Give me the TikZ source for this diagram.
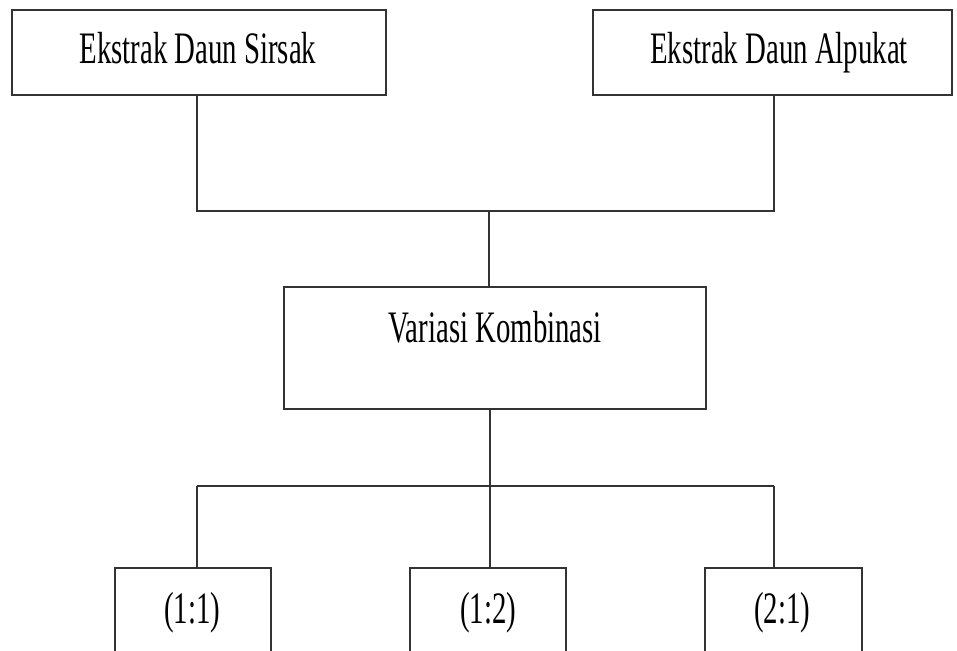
\documentclass[tikz,border=0pt]{standalone}
\usepackage{fontspec}
\newfontfamily\boxfont[FakeStretch=0.64]{Liberation Serif}
\begin{document}
\begin{tikzpicture}[x=1pt,y=-1pt,
  frame/.style={draw=black!80,line width=1.6pt,rectangle,inner sep=0pt,anchor=north west},
  lbl/.style={anchor=base,inner sep=0pt,font=\boxfont\fontsize{45}{50}\selectfont},
  wire/.style={draw=black!80,line width=1.6pt}]
\useasboundingbox (0,0) rectangle (957,650);
\clip (0,0) rectangle (957,650);
% top boxes
\node[frame,minimum width=374pt,minimum height=85pt] (sirsak) at (11,9) {};
\node[frame,minimum width=359pt,minimum height=85pt] (alpukat) at (592,9) {};
\node[lbl] (tsirsak) at (198,64) {Ekstrak Daun Sirsak};
\node[lbl] (talpukat) at (779,64) {Ekstrak Daun Alpukat};
% middle box
\node[frame,minimum width=422pt,minimum height=122pt] (variasi) at (283,286) {};
\node[lbl] (tvariasi) at (495,342) {Variasi Kombinasi};
% bottom boxes
\node[frame,minimum width=156pt,minimum height=100pt] (r11) at (114,567) {};
\node[frame,minimum width=156pt,minimum height=100pt] (r12) at (409,567) {};
\node[frame,minimum width=157pt,minimum height=100pt] (r21) at (704,567) {};
\node[lbl] (t11) at (192,623) {(1:1)};
\node[lbl] (t12) at (488,623) {(1:2)};
\node[lbl] (t21) at (782,623) {(2:1)};
% junction points
\coordinate (a1) at (197,211);
\coordinate (a2) at (489,211);
\coordinate (a3) at (774,211);
\coordinate (d1) at (197,486);
\coordinate (d2) at (490,486);
\coordinate (d3) at (774,486);
% upper connectors
\draw[wire] (a1 |- sirsak.south) -- (a1) -- (a3) -- (a3 |- alpukat.south);
\draw[wire] (a2) -- (a2 |- variasi.north);
% lower connectors
\draw[wire] (d2 |- variasi.south) -- (d2);
\draw[wire] (d1) -- (d3);
\draw[wire] (d1) -- (d1 |- r11.north);
\draw[wire] (d2) -- (d2 |- r12.north);
\draw[wire] (d3) -- (d3 |- r21.north);
\end{tikzpicture}
\end{document}
